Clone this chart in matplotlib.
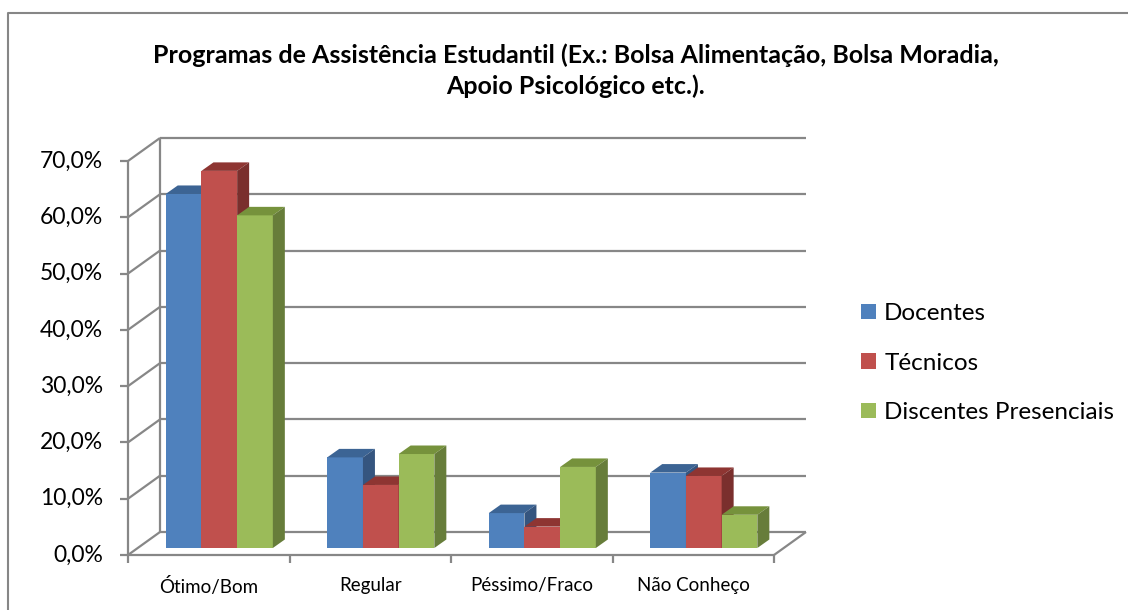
import matplotlib.pyplot as plt
from matplotlib.patches import Polygon, Rectangle, Patch
from matplotlib.lines import Line2D

categories = ["Ótimo/Bom", "Regular", "Péssimo/Fraco", "Não Conheço"]
series = ["Docentes", "Técnicos", "Discentes Presenciais"]
docentes = [62.9, 16.1, 6.2, 13.4]
tecnicos = [67.0, 11.2, 3.8, 12.8]
discentes = [59.1, 16.7, 14.4, 5.9]
yticks = [0, 10, 20, 30, 40, 50, 60, 70]
ytick_labels = ["0,0%", "10,0%", "20,0%", "30,0%", "40,0%", "50,0%", "60,0%", "70,0%"]
title = ("Programas de Assistência Estudantil (Ex.: Bolsa Alimentação, Bolsa Moradia,\n"
         "Apoio Psicológico etc.).")

face = ["#4F81BD", "#C0504D", "#9BBB59"]
topc = ["#3C6494", "#8E3532", "#76923C"]
sidec = ["#35557F", "#7A2F2D", "#677D3A"]
grid = "#878787"

plt.rcParams["font.family"] = ["Lato", "DejaVu Sans"]

W, H = 1128, 610
fig = plt.figure(figsize=(W / 100, H / 100), dpi=100)

# plot region in pixels
x0, x1 = 128, 806
ppc = 161.5                 # pixels per category
yb = 555                    # floor front edge (from top)
ppp = (555 - 161) / 70      # pixels per percent
ytop = 130
ax = fig.add_axes([x0 / W, (H - yb) / H, (x1 - x0) / W, (yb - ytop) / H])
ax.set_xlim(0, (x1 - x0) / ppc)
ax.set_ylim(0, (yb - ytop) / ppp)
ax.axis("off")

DX, DY = 32 / ppc, 23 / ppp          # depth of the floor
f0 = 7 / 23                           # bars' front plane
bdx, bdy = 12 / ppc, 8.5 / ppp        # depth of a bar
off = 28 / ppc
bw = 35.7 / ppc
n = len(categories)
kw = dict(color=grid, lw=1.6, clip_on=False, zorder=1, solid_capstyle="butt")

# back wall gridlines and left wall diagonals
for v, lab in zip(yticks, ytick_labels):
    ax.plot([DX, n + DX], [v + DY, v + DY], **kw)
    ax.plot([0, DX], [v, v + DY], **kw)
    ax.plot([-8 / ppc, 0], [v, v], **kw)
    ax.text(-25 / ppc, v, lab, ha="right", va="center", fontsize=16.5, color="black")
ax.plot([DX, DX], [DY, yticks[-1] + DY], **kw)
ax.plot([0, 0], [0, yticks[-1]], **kw)
# floor
ax.plot([0, n], [0, 0], **kw)
ax.plot([n, n + DX], [0, DY], **kw)
for c in range(n + 1):
    ax.plot([c, c], [0, -8 / ppp], **kw)
for c, lab in enumerate(categories):
    ax.text(c + 0.5, -31 / ppp, lab, ha="center", va="center", fontsize=13.5)

# bars
values = [docentes, tecnicos, discentes]
for c in range(n):
    for s, vals in enumerate(values):
        v = vals[c]
        xl = c + off + s * bw + f0 * DX
        yl = f0 * DY
        z = 3 + s
        ax.add_patch(Rectangle((xl, yl), bw, v, facecolor=face[s], edgecolor="none", zorder=z))
        ax.add_patch(Polygon([(xl, yl + v), (xl + bw, yl + v), (xl + bw + bdx, yl + v + bdy),
                              (xl + bdx, yl + v + bdy)], closed=True,
                             facecolor=topc[s], edgecolor="none", zorder=z))
        ax.add_patch(Polygon([(xl + bw, yl), (xl + bw + bdx, yl + bdy),
                              (xl + bw + bdx, yl + v + bdy), (xl + bw, yl + v)], closed=True,
                             facecolor=sidec[s], edgecolor="none", zorder=z))

# legend
handles = [Patch(facecolor=face[s], edgecolor="none", label=series[s]) for s in range(3)]
fig.legend(handles=handles, loc="upper left", bbox_to_anchor=(849 / W, 1 - 291 / H),
           frameon=False, fontsize=17.5, handlelength=0.62, handleheight=0.62,
           handletextpad=0.33, labelspacing=1.17, borderpad=0)

fig.text(576 / W, 1 - 43 / H, title, ha="center", va="top", fontsize=18,
         fontweight="bold", linespacing=1.4)

# chart border
fig.add_artist(Line2D([8 / W, 8 / W, 1], [0, 1 - 13 / H, 1 - 13 / H],
                      transform=fig.transFigure, color="#868686", lw=1.5))

fig.savefig("out.png", dpi=100)
